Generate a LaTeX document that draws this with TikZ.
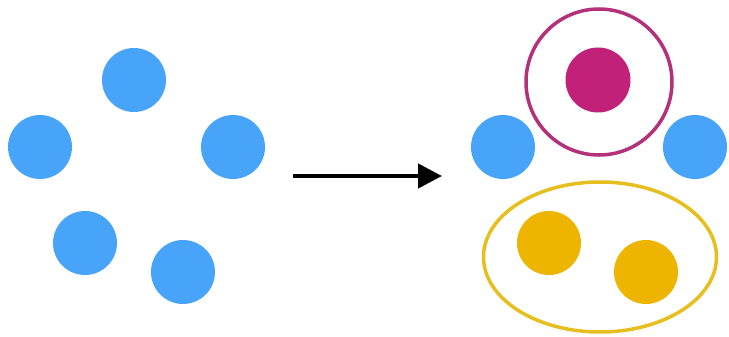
\documentclass[tikz,border=0pt]{standalone}
\usetikzlibrary{arrows.meta}
\definecolor{dotblue}{HTML}{47A4F9}
\definecolor{dotmagenta}{HTML}{C2217A}
\definecolor{ringmagenta}{HTML}{B3307A}
\definecolor{dotyellow}{HTML}{EDB500}
\definecolor{ringyellow}{HTML}{E6BE1E}
\begin{document}
\begin{tikzpicture}[x=1pt,y=-1pt,
  dot/.style={circle,inner sep=0pt,minimum size=64pt},
  bluedot/.style={dot,fill=dotblue},
  magdot/.style={dot,fill=dotmagenta,minimum size=65pt},
  yeldot/.style={dot,fill=dotyellow},
  flow/.style={line width=4.5pt,-{Triangle[length=24pt,width=24pt]}}]
\useasboundingbox (0,0) rectangle (729,337);
% before: five loose points
\node[bluedot] (a1) at (134,80) {};
\node[bluedot] (a2) at (40,147) {};
\node[bluedot] (a3) at (233,147) {};
\node[bluedot] (a4) at (85,243) {};
\node[bluedot] (a5) at (183,272) {};
% transition
\coordinate (s) at (293,176);
\coordinate (t) at (442,176);
\draw[flow] (s) -- (t);
% after: grouped points
\node[bluedot] (b1) at (503,147) {};
\node[bluedot] (b2) at (695,147) {};
\node[magdot] (m) at (598,80) {};
\draw[ringmagenta,line width=3.5pt] (599,82) circle (73);
\draw[ringyellow,line width=3.5pt] (600,257) ellipse (116.5 and 75);
\node[yeldot] (y1) at (549,243) {};
\node[yeldot] (y2) at (646,272) {};
\end{tikzpicture}
\end{document}
